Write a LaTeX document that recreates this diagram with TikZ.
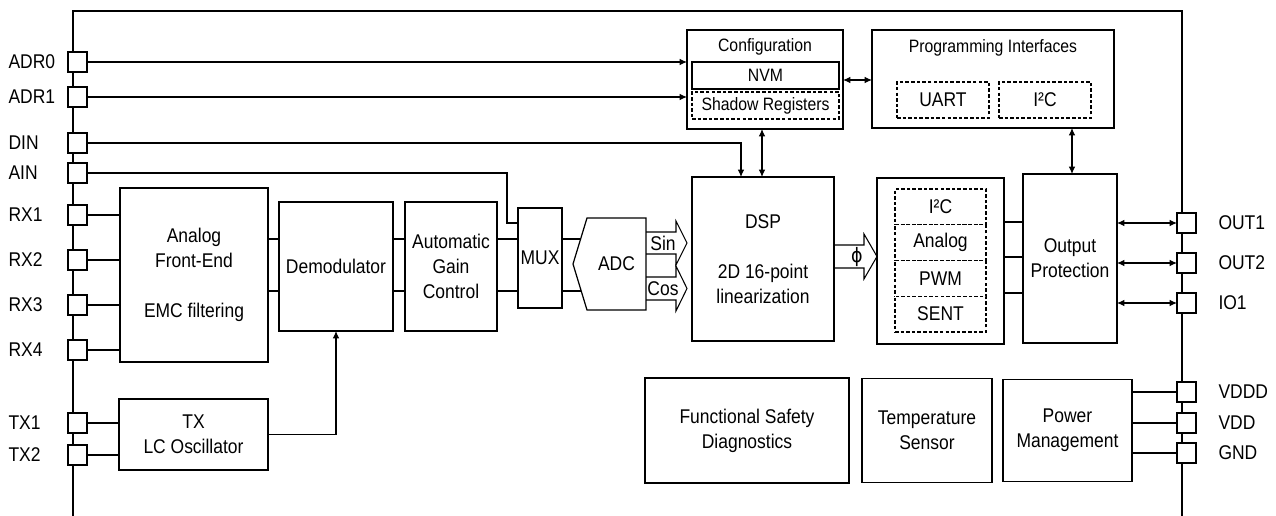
\documentclass[tikz,border=0pt]{standalone}
\usepackage{fontspec}
\setmainfont{Liberation Sans}[FakeStretch=0.88]
\newfontfamily\phifont{DejaVu Sans}[FakeStretch=0.88]
\usetikzlibrary{arrows.meta,calc,positioning}
\tikzset{block/.style={draw, fill=white, line width=0.7pt, align=center, inner sep=0pt, outer sep=0pt}}
\tikzset{dims/.style 2 args={minimum width=#1*0.02cm, minimum height=#2*0.02cm}}
\tikzset{subblock/.style={block, dash pattern=on 2pt off 1.2pt, line width=0.6pt}}
\tikzset{smalltext/.style={font=\fontsize{10.2pt}{12pt}\selectfont}}
\tikzset{padbox/.style={draw, fill=white, line width=0.6pt, minimum width=0.38cm, minimum height=0.4cm, inner sep=0pt, outer sep=0pt}}
\tikzset{leftpad/.style={padbox, label={[anchor=west, xshift=-1.2cm, inner sep=0pt]west:#1}}}
\tikzset{rightpad/.style={padbox, label={[anchor=west, xshift=0.44cm, inner sep=0pt]east:#1}}}
\tikzstyle{arrow} = [-{Latex[length=4.2pt, width=3.8pt]}]
\tikzstyle{biarrow} = [{Latex[length=4.2pt, width=3.8pt]}-{Latex[length=4.2pt, width=3.8pt]}]
\tikzstyle{fat} = [line width=0.6pt, line join=miter]

\begin{document}
\begin{tikzpicture}[x=0.02cm, y=-0.02cm, line width=0.6pt, font=\fontsize{11.3pt}{14.2pt}\selectfont]
	\useasboundingbox (0,0) rectangle (1276,516);
	% Chip outline
	\draw[line width=0.7pt] (73,516) -- (73,11) -- (1182,11) -- (1182,516);

	% Pins
	\node (adr0) [leftpad=ADR0] at (77.5,62) {};
	\node (adr1) [leftpad=ADR1] at (77.5,97) {};
	\node (din) [leftpad=DIN] at (77.5,143) {};
	\node (ain) [leftpad=AIN] at (77.5,173) {};
	\node (rx1) [leftpad=RX1] at (77.5,215) {};
	\node (rx2) [leftpad=RX2] at (77.5,260) {};
	\node (rx3) [leftpad=RX3] at (77.5,305) {};
	\node (rx4) [leftpad=RX4] at (77.5,350) {};
	\node (tx1) [leftpad=TX1] at (77.5,423) {};
	\node (tx2) [leftpad=TX2] at (77.5,455) {};
	\node (out1) [rightpad=OUT1] at (1186.5,223) {};
	\node (out2) [rightpad=OUT2] at (1186.5,263) {};
	\node (io1) [rightpad=IO1] at (1186.5,303) {};
	\node (vddd) [rightpad=VDDD] at (1186.5,392) {};
	\node (vdd) [rightpad=VDD] at (1186.5,423) {};
	\node (gnd) [rightpad=GND] at (1186.5,453) {};

	% Blocks
	\node (afe) [block, dims={148}{174}] at (194,275) {Analog\\Front-End\\[\baselineskip]EMC filtering};
	\node (txosc) [block, dims={149}{71}] at (193.5,434.5) {TX\\LC Oscillator};
	\node (demod) [block, dims={114}{129}] at (336,266.5) {Demodulator};
	\node (agc) [block, dims={92}{129}] at (451,266.5) {Automatic\\Gain\\Control};
	\node (mux) [block, dims={44}{100}] at (540,258) {MUX};
	\node (adc) [dims={59}{92}, inner sep=0pt, outer sep=0pt] at (616.5,264) {ADC};
	\node (dsp) [block, dims={142}{164}] at (763,259) {DSP\\[\baselineskip]2D 16-point\\linearization};
	\node (config) [block, dims={156}{99}] at (765,79.5) {};
	\node (configtitle) [smalltext] at (765,47) {Configuration};
	\node (nvm) [block, smalltext, dims={147}{27}] at (765.5,75.5) {NVM};
	\node (shadow) [subblock, smalltext, dims={147}{27}, below=0.06cm of nvm] {Shadow Registers};
	\node (prog) [block, dims={242}{98}] at (993,79) {};
	\node (progtitle) [smalltext] at (993,48) {Programming Interfaces};
	\node (uart) [subblock, dims={92}{36}] at (943,100) {UART};
	\node (progi2c) [subblock, dims={92}{36}, right=0.2cm of uart] {I²C};
	\node (outif) [block, dims={127}{166}] at (940.5,261) {};
	\node (ifi2c) [subblock, dims={91}{35.75}] at (940.5,206.9) {I²C};
	\node (ifanalog) [subblock, dims={91}{35.75}, below=0pt of ifi2c] {Analog};
	\node (ifpwm) [subblock, dims={91}{35.75}, below=0pt of ifanalog] {PWM};
	\node (ifsent) [subblock, dims={91}{35.75}, below=0pt of ifpwm] {SENT};
	\node (outprot) [block, dims={94}{169}] at (1070,258.5) {Output\\Protection};
	\node (fsd) [block, dims={204}{105}] at (747,430.5) {Functional Safety\\Diagnostics};
	\node (temp) [block, dims={130}{104}, right=0.26cm of fsd] {Temperature\\Sensor};
	\node (power) [block, dims={129}{102}, right=0.22cm of temp] {Power\\Management};

	% ADC outline
	\draw[line width=0.7pt] (adc.north west) -- (adc.north east) -- (adc.south east) -- (adc.south west) -- ($(adc.west)+(-14,0)$) -- cycle;

	% Connectors
	\draw [arrow] (adr0) -- (adr0 -| config.west);
	\draw [arrow] (adr1) -- (adr1 -| config.west);
	\draw [arrow] (din) -| ($(dsp.north west)+(49,0)$);
	\draw (ain) -| (507,223) -- (mux.west |- 0,223);
	\draw [biarrow] (config.south -| 762,0) -- (dsp.north -| 762,0);
	\draw [biarrow] (config.east |- 0,80) -- (prog.west |- 0,80);
	\draw [biarrow] (prog.south -| 1072,0) -- (outprot.north -| 1072,0);

	\draw (rx1) -- (rx1 -| afe.west);
	\draw (rx2) -- (rx2 -| afe.west);
	\draw (rx3) -- (rx3 -| afe.west);
	\draw (rx4) -- (rx4 -| afe.west);
	\draw (tx1) -- (tx1 -| txosc.west);
	\draw (tx2) -- (tx2 -| txosc.west);
	\draw [arrow] (txosc.east) -| (demod.south);

	\draw (afe.east |- 0,239) -- (demod.west |- 0,239);
	\draw (afe.east |- 0,291) -- (demod.west |- 0,291);
	\draw (demod.east |- 0,239) -- (agc.west |- 0,239);
	\draw (demod.east |- 0,291) -- (agc.west |- 0,291);
	\draw (agc.east |- 0,239) -- (mux.west |- 0,239);
	\draw (agc.east |- 0,291) -- (mux.west |- 0,291);
	\draw (mux.east |- 0,239) -- ($(adc.west |- 0,239)+(-6.4,0)$);
	\draw (mux.east |- 0,291) -- ($(adc.west |- 0,291)+(-5.8,0)$);

	% Sin / Cos / phi buses
	\draw [fat] (adc.east |- 0,232) -- (676,232) -- (676,221) -- (687,243) -- (676,265) -- (676,254) -- (adc.east |- 0,254);
	\draw [fat] (adc.east |- 0,277) -- (676,277) -- (676,266) -- (687,288.5) -- (676,311) -- (676,300) -- (adc.east |- 0,300);
	\node (sinlbl) at (663,243) {Sin};
	\node (coslbl) at (663,288.5) {Cos};
	\draw [fat] (dsp.east |- 0,245) -- (864,245) -- (864,234) -- (outif.west |- 0,256.5) -- (864,279) -- (864,268) -- (dsp.east |- 0,268);
	\node (philbl) [font=\fontsize{11.3pt}{14.2pt}\phifont] at (857,257) {ϕ};

	\draw (outif.east |- 0,222) -- (outprot.west |- 0,222);
	\draw (outif.east |- 0,257) -- (outprot.west |- 0,257);
	\draw (outif.east |- 0,293) -- (outprot.west |- 0,293);
	\draw [biarrow] (outprot.east |- out1) -- (out1);
	\draw [biarrow] (outprot.east |- out2) -- (out2);
	\draw [biarrow] (outprot.east |- io1) -- (io1);
	\draw (power.east |- vddd) -- (vddd);
	\draw (power.east |- vdd) -- (vdd);
	\draw (power.east |- gnd) -- (gnd);
\end{tikzpicture}
\end{document}
